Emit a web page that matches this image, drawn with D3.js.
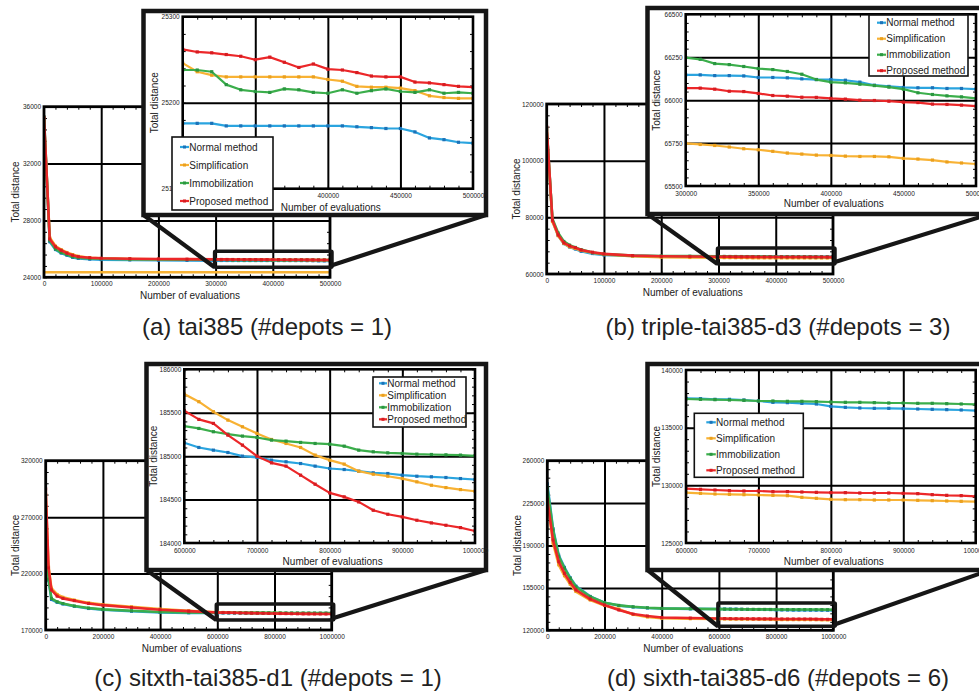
<!DOCTYPE html>
<html>
<head>
<meta charset="utf-8">
<script src="https://cdn.jsdelivr.net/npm/d3@7"></script>
<style>
body { margin: 0; background: #fff; }
text { font-family: "Liberation Sans", Arial, sans-serif; }
</style>
</head>
<body>
<svg id="fig" width="979" height="695"></svg>
<script>
'use strict';

var seriesNames  = ["Normal method", "Simplification", "Immobilization", "Proposed method"];
var seriesColors = ["#2aa4df", "#f8b234", "#3bae4b", "#ec2729"];
var markerColors = ["#1b72b8", "#eba01d", "#2a9640", "#d71c21"];

// x values of the zoomed part
var abTailX = [300000, 310000, 320000, 330000, 340000, 350000, 360000, 370000, 380000, 390000, 400000,
               410000, 420000, 430000, 440000, 450000, 460000, 470000, 480000, 490000, 500000];
var cdTailX = [600000, 620000, 640000, 660000, 680000, 700000, 720000, 740000, 760000, 780000, 800000,
               820000, 840000, 860000, 880000, 900000, 920000, 940000, 960000, 980000, 1000000];

// (a) tai385
var aHeadX        = [0, 10000, 20000, 30000, 40000, 50000, 60000, 80000, 100000, 150000, 200000, 250000];
var aHeadNormal   = [35100, 26500, 25950, 25700, 25550, 25400, 25330, 25270, 25240, 25215, 25195, 25185];
var aHeadSimpl    = [35000, 26800, 26200, 25950, 25750, 25600, 25480, 25380, 25330, 25290, 25270, 25255];
var aHeadImmob    = [35300, 26600, 26000, 25750, 25600, 25450, 25380, 25320, 25300, 25270, 25255, 25245];
var aHeadProposed = [35250, 26700, 26150, 25900, 25700, 25550, 25450, 25380, 25340, 25310, 25290, 25275];
var aTailNormal   = [25176, 25176, 25176, 25173, 25173, 25173, 25173, 25173, 25173, 25173, 25173,
                     25173, 25172, 25171, 25170, 25170, 25166, 25159, 25157, 25154, 25153];
var aTailSimpl    = [25246, 25236, 25232, 25230, 25230, 25230, 25230, 25230, 25230, 25230, 25227,
                     25225, 25219, 25218, 25218, 25217, 25214, 25208, 25206, 25205, 25205];
var aTailImmob    = [25238, 25238, 25236, 25221, 25215, 25213, 25212, 25216, 25215, 25212, 25211,
                     25215, 25211, 25214, 25216, 25213, 25212, 25215, 25211, 25212, 25211];
var aTailProposed = [25262, 25259, 25258, 25256, 25254, 25250, 25253, 25247, 25241, 25245, 25239,
                     25238, 25235, 25231, 25230, 25230, 25224, 25223, 25221, 25219, 25218];
var aFloorX       = [0, 500000];
var aFloorSimpl   = [24350, 24350];

// (b) triple-tai385-d3
var bHeadX        = [0, 10000, 20000, 30000, 40000, 50000, 60000, 80000, 100000, 150000, 200000, 250000];
var bHeadNormal   = [111500, 78800, 73600, 70700, 69500, 68800, 68000, 67200, 66700, 66400, 66250, 66180];
var bHeadSimpl    = [111500, 78500, 73500, 70800, 69600, 69000, 68300, 67500, 66900, 66300, 65950, 65800];
var bHeadImmob    = [111000, 79500, 74500, 71500, 70200, 69400, 68600, 67600, 67000, 66500, 66350, 66300];
var bHeadProposed = [112000, 79000, 73800, 71000, 69900, 69300, 68500, 67700, 67100, 66500, 66250, 66150];
var bTailNormal   = [66147, 66147, 66143, 66143, 66141, 66132, 66132, 66130, 66124, 66120, 66120,
                     66116, 66105, 66087, 66080, 66074, 66072, 66072, 66068, 66068, 66064];
var bTailSimpl    = [65748, 65742, 65736, 65727, 65717, 65711, 65702, 65692, 65686, 65680, 65678,
                     65674, 65672, 65672, 65670, 65661, 65657, 65651, 65640, 65634, 65628];
var bTailImmob    = [66248, 66238, 66213, 66207, 66196, 66184, 66178, 66167, 66151, 66120, 66105,
                     66101, 66093, 66085, 66076, 66064, 66043, 66033, 66025, 66019, 66010];
var bTailProposed = [66070, 66070, 66064, 66052, 66050, 66039, 66027, 66023, 66017, 66016, 66010,
                     66006, 66000, 65998, 65994, 65988, 65986, 65977, 65975, 65971, 65965];

// (c) sitxth-tai385-d1
var cHeadX        = [0, 10000, 20000, 40000, 60000, 100000, 150000, 200000, 300000, 400000, 500000];
var cHeadNormal   = [263000, 214000, 197000, 194500, 193000, 191000, 189000, 188000, 186600, 185500, 185200];
var cHeadSimpl    = [290000, 226000, 207000, 201500, 199000, 196500, 194000, 192500, 190500, 188500, 187000];
var cHeadImmob    = [265000, 215000, 198000, 195000, 193500, 191300, 189500, 188300, 187000, 185900, 185500];
var cHeadProposed = [295000, 225000, 205500, 200000, 198000, 196000, 193500, 192000, 190000, 188000, 186700];
var cTailNormal   = [185154, 185100, 185069, 185042, 185000, 184985, 184954, 184935, 184915, 184885, 184858,
                     184846, 184827, 184808, 184800, 184781, 184769, 184762, 184754, 184742, 184731];
var cTailSimpl    = [185715, 185627, 185512, 185415, 185338, 185262, 185192, 185146, 185100, 185012, 184954,
                     184908, 184827, 184792, 184769, 184742, 184704, 184665, 184638, 184615, 184596];
var cTailImmob    = [185346, 185319, 185281, 185254, 185231, 185215, 185185, 185173, 185158, 185146, 185138,
                     185115, 185069, 185050, 185038, 185031, 185023, 185019, 185015, 185012, 185004];
var cTailProposed = [185523, 185423, 185377, 185242, 185127, 185000, 184923, 184885, 184781, 184677, 184577,
                     184531, 184473, 184377, 184331, 184300, 184262, 184231, 184204, 184177, 184138];

// (d) sixth-tai385-d6
var dHeadX        = [0, 20000, 40000, 60000, 80000, 100000, 150000, 200000, 250000, 300000, 350000, 400000, 500000];
var dHeadNormal   = [241000, 204000, 182000, 172000, 163500, 156500, 148000, 142800, 140400, 139200, 138400, 138000, 137700];
var dHeadSimpl    = [229000, 192000, 174000, 165000, 158000, 152000, 145000, 140500, 137500, 133000, 131000, 130000, 129500];
var dHeadImmob    = [238000, 202800, 180800, 171200, 162900, 156000, 147700, 142700, 140600, 139400, 138600, 138100, 137800];
var dHeadProposed = [228000, 194500, 176600, 167000, 159600, 153300, 145800, 140800, 136800, 133400, 131800, 130600, 130100];
var dTailNormal   = [137543, 137514, 137457, 137457, 137400, 137312, 137197, 137168, 137110, 137052, 136850,
                     136763, 136705, 136676, 136676, 136647, 136618, 136590, 136561, 136532, 136474];
var dTailSimpl    = [129364, 129306, 129249, 129220, 129191, 129162, 129133, 129104, 128960, 128873, 128786,
                     128757, 128757, 128728, 128728, 128728, 128699, 128671, 128642, 128613, 128584];
var dTailImmob    = [137486, 137457, 137428, 137399, 137370, 137312, 137312, 137283, 137283, 137254, 137225,
                     137197, 137197, 137168, 137139, 137139, 137110, 137110, 137081, 137052, 137023];
var dTailProposed = [129711, 129653, 129595, 129538, 129509, 129509, 129451, 129451, 129422, 129393, 129364,
                     129364, 129335, 129335, 129335, 129306, 129277, 129191, 129133, 129104, 129046];

var svg = d3.select("#fig"),
    clipCount = 0,
    INK = "#161616";

function zip(xs, vs) {
    return xs.map(function(x, i) { return [x, vs[i]]; });
}

function stripDomain(sel) { sel.select(".domain").remove(); }

// one framed plot with grid, inward ticks, labels and series
function drawPlot(p, sets) {
    var x = d3.scaleLinear().domain(p.xDomain).range([p.left, p.right]),
        y = d3.scaleLinear().domain(p.yDomain).range([p.bottom, p.top]),
        w = p.right - p.left,
        h = p.bottom - p.top,
        g = svg.append("g");

    var xMajor = d3.range(p.xDomain[0], p.xDomain[1] + 1, p.xStep),
        yMajor = d3.range(p.yDomain[0], p.yDomain[1] + 1, p.yStep),
        xMinor = d3.range(p.xDomain[0], p.xDomain[1] + 1, p.xMinor),
        yMinor = d3.range(p.yDomain[0], p.yDomain[1] + 1, p.yMinor);

    // grid
    g.append("g").attr("transform", "translate(0," + p.bottom + ")")
        .call(d3.axisBottom(x).tickValues(xMajor.slice(1, -1)).tickSize(-h).tickFormat(""))
        .call(stripDomain)
        .selectAll("line").attr("stroke", "#000").attr("stroke-width", p.grid);
    g.append("g").attr("transform", "translate(" + p.left + ",0)")
        .call(d3.axisLeft(y).tickValues(yMajor.slice(1, -1)).tickSize(-w).tickFormat(""))
        .call(stripDomain)
        .selectAll("line").attr("stroke", "#000").attr("stroke-width", p.grid);

    // minor ticks, pointing inward on all four sides
    var ticks = [
        [d3.axisBottom(x).tickValues(xMinor), "translate(0," + p.bottom + ")"],
        [d3.axisTop(x).tickValues(xMinor),    "translate(0," + p.top + ")"],
        [d3.axisLeft(y).tickValues(yMinor),   "translate(" + p.left + ",0)"],
        [d3.axisRight(y).tickValues(yMinor),  "translate(" + p.right + ",0)"]
    ];
    ticks.forEach(function(t) {
        g.append("g").attr("transform", t[1])
            .call(t[0].tickSize(-3).tickFormat(""))
            .call(stripDomain)
            .selectAll("line").attr("stroke", "#000").attr("stroke-width", 1);
    });

    // series
    var clipId = "clip" + (clipCount++);
    g.append("clipPath").attr("id", clipId)
        .append("rect").attr("x", p.left).attr("y", p.top).attr("width", w).attr("height", h);
    var lines = g.append("g").attr("clip-path", "url(#" + clipId + ")");
    var line = d3.line().x(function(d) { return x(d[0]); }).y(function(d) { return y(d[1]); });

    sets.forEach(function(s) {
        lines.append("path").datum(s.pts)
            .attr("fill", "none")
            .attr("stroke", seriesColors[s.k])
            .attr("stroke-width", p.lw)
            .attr("stroke-linejoin", "round")
            .attr("d", line);
        if (s.marks === false) return;
        lines.selectAll(null).data(s.pts).enter().append("rect")
            .attr("x", function(d) { return x(d[0]) - p.mk / 2; })
            .attr("y", function(d) { return y(d[1]) - p.mk / 2; })
            .attr("width", p.mk).attr("height", p.mk)
            .attr("fill", markerColors[s.k]);
    });

    // frame
    g.append("rect")
        .attr("x", p.left).attr("y", p.top).attr("width", w).attr("height", h)
        .attr("fill", "none").attr("stroke", "#000").attr("stroke-width", p.frame);

    // tick labels (those hidden under a legend in the original are left out)
    var fmt = d3.format("d"),
        hidden = p.xHidden || [],
        xLabels = xMajor.filter(function(v) { return hidden.indexOf(v) < 0; });
    g.append("g").attr("transform", "translate(0," + p.bottom + ")")
        .call(d3.axisBottom(x).tickValues(xLabels).tickSize(0).tickPadding(p.xPad).tickFormat(fmt))
        .call(stripDomain)
        .selectAll("text").attr("font-size", 6.5).attr("font-family", null).attr("fill", "#222");
    g.append("g").attr("transform", "translate(" + p.left + ",0)")
        .call(d3.axisLeft(y).tickValues(yMajor).tickSize(0).tickPadding(3).tickFormat(fmt))
        .call(stripDomain)
        .selectAll("text").attr("font-size", 6.5).attr("font-family", null).attr("fill", "#222");

    // titles
    g.append("text")
        .attr("x", (p.left + p.right) / 2 + 3).attr("y", p.xTitleY)
        .attr("text-anchor", "middle").attr("font-size", 10).attr("fill", "#222")
        .text("Number of evaluations");
    g.append("text")
        .attr("transform", "translate(" + p.yTitleX + "," + (p.top + p.bottom) / 2 + ") rotate(-90)")
        .attr("text-anchor", "middle").attr("dy", "0.35em").attr("font-size", 10).attr("fill", "#222")
        .text("Total distance");

    return {x: x, y: y};
}

function drawLegend(L) {
    var g = svg.append("g");
    g.append("rect").attr("x", L.x).attr("y", L.y).attr("width", L.w).attr("height", L.h)
        .attr("fill", "#fff").attr("stroke", "#111").attr("stroke-width", 1.6);
    seriesNames.forEach(function(name, i) {
        var cy = L.row0 + i * L.step;
        g.append("line")
            .attr("x1", L.x + L.s0).attr("x2", L.x + L.s1).attr("y1", cy).attr("y2", cy)
            .attr("stroke", seriesColors[i]).attr("stroke-width", 2.2);
        g.append("rect")
            .attr("x", L.x + (L.s0 + L.s1) / 2 - 1.5).attr("y", cy - 1.5)
            .attr("width", 3).attr("height", 3).attr("fill", markerColors[i]);
        g.append("text")
            .attr("x", L.x + L.s1 + 0.3).attr("y", cy).attr("dy", "0.35em")
            .attr("font-size", 10).attr("fill", "#222").text(name);
    });
}

function drawPanel(P) {
    var mainSets = P.head.map(function(hv, k) {
        return {k: k, pts: zip(P.headX, hv).concat(zip(P.tailX, P.tail[k]))};
    });
    if (P.extra) mainSets.unshift(P.extra);
    var m = drawPlot(P.main, mainSets);

    // highlight box and connectors
    var ins = P.inset,
        yMid = m.y((ins.yDomain[0] + ins.yDomain[1]) / 2),
        bx0 = m.x(ins.xDomain[0]) - 1,
        bx1 = m.x(ins.xDomain[1]) + 2,
        by0 = Math.min(m.y(ins.yDomain[1]) - 3, yMid - 9),
        by1 = Math.max(m.y(ins.yDomain[0]) + 2, yMid + 7),
        f = P.frame;
    svg.append("rect").attr("x", bx0).attr("y", by0).attr("width", bx1 - bx0).attr("height", by1 - by0)
        .attr("fill", "none").attr("stroke", INK).attr("stroke-width", 3.5).attr("rx", 1);
    svg.append("line").attr("x1", f[0]).attr("y1", f[3]).attr("x2", bx0).attr("y2", by1)
        .attr("stroke", INK).attr("stroke-width", 4.2);
    svg.append("line").attr("x1", bx1).attr("y1", by1 - 2).attr("x2", f[2]).attr("y2", f[3])
        .attr("stroke", INK).attr("stroke-width", 4.2);

    // zoomed inset
    svg.append("rect").attr("x", f[0]).attr("y", f[1]).attr("width", f[2] - f[0]).attr("height", f[3] - f[1])
        .attr("fill", "#fff").attr("stroke", INK).attr("stroke-width", 4.5);
    drawPlot(ins, P.tail.map(function(tv, k) { return {k: k, pts: zip(P.tailX, tv)}; }));
    drawLegend(P.legend);

    svg.append("text").attr("x", P.caption[1]).attr("y", P.caption[2])
        .attr("text-anchor", "middle").attr("font-size", 24).attr("fill", "#222")
        .text(P.caption[0]);
}

function mainBox(left, right, top, bottom, xDomain, yDomain, xStep, yStep, yTitleX) {
    return {left: left, right: right, top: top, bottom: bottom, xDomain: xDomain, yDomain: yDomain,
            xStep: xStep, yStep: yStep, xMinor: xStep / 5, yMinor: yStep / 5,
            grid: 2, frame: 2.8, lw: 2.6, mk: 3, xPad: 4, xTitleY: bottom + 21.5, yTitleX: yTitleX};
}

function insetBox(left, right, top, bottom, xDomain, yDomain, xStep, yStep, yTitleX, xTitleY) {
    return {left: left, right: right, top: top, bottom: bottom, xDomain: xDomain, yDomain: yDomain,
            xStep: xStep, yStep: yStep, xMinor: xStep / 5, yMinor: yStep / 5,
            grid: 2, frame: 2.6, lw: 2.2, mk: 3.2, xPad: 5, xTitleY: xTitleY, yTitleX: yTitleX};
}

var insetA = insetBox(182.7, 473, 16.7, 188.7, [300000, 500000], [25100, 25300], 50000, 100, 154.5, 210.5);
insetA.xHidden = [300000, 350000];

drawPanel({
    main:  mainBox(44, 330, 106.7, 277.3, [0, 500000], [24000, 36000], 100000, 4000, 15.5),
    inset: insetA,
    frame: [143.5, 11, 486, 215],
    legend: {x: 172, y: 137, w: 101, h: 73, row0: 147, step: 18, s0: 8, s1: 17},
    caption: ["(a) tai385 (#depots = 1)", 267, 335],
    headX: aHeadX, head: [aHeadNormal, aHeadSimpl, aHeadImmob, aHeadProposed],
    tailX: abTailX, tail: [aTailNormal, aTailSimpl, aTailImmob, aTailProposed],
    extra: {k: 1, marks: false, pts: zip(aFloorX, aFloorSimpl)}
});

drawPanel({
    main:  mainBox(546.7, 833, 104, 274, [0, 500000], [60000, 120000], 100000, 20000, 516.5),
    inset: insetBox(685.7, 976, 14.3, 186, [300000, 500000], [65500, 66500], 50000, 250, 656, 207),
    frame: [647.5, 8, 990, 214],
    legend: {x: 869, y: 15, w: 99, h: 61, row0: 22.7, step: 16, s0: 8, s1: 17},
    caption: ["(b) triple-tai385-d3 (#depots = 3)", 778, 335],
    headX: bHeadX, head: [bHeadNormal, bHeadSimpl, bHeadImmob, bHeadProposed],
    tailX: abTailX, tail: [bTailNormal, bTailSimpl, bTailImmob, bTailProposed]
});

drawPanel({
    main:  mainBox(45.7, 331.7, 460.7, 630, [0, 1000000], [170000, 320000], 200000, 50000, 15.5),
    inset: insetBox(184.3, 475, 369.3, 543, [600000, 1000000], [184000, 186000], 100000, 500, 153.5, 565),
    frame: [146.5, 364, 486, 570],
    legend: {x: 373, y: 377, w: 93, h: 50, row0: 383.3, step: 12, s0: 6, s1: 14},
    caption: ["(c) sitxth-tai385-d1 (#depots = 1)", 268, 686],
    headX: cHeadX, head: [cHeadNormal, cHeadSimpl, cHeadImmob, cHeadProposed],
    tailX: cdTailX, tail: [cTailNormal, cTailSimpl, cTailImmob, cTailProposed]
});

drawPanel({
    main:  mainBox(547.3, 833.3, 460.7, 630.3, [0, 1000000], [120000, 260000], 200000, 35000, 517),
    inset: insetBox(686, 975.7, 370, 543, [600000, 1000000], [125000, 140000], 100000, 5000, 656.5, 565),
    frame: [647.5, 364, 990, 570],
    legend: {x: 694.3, y: 413.3, w: 109, h: 64, row0: 422.3, step: 16, s0: 12, s1: 21.5},
    caption: ["(d) sixth-tai385-d6 (#depots = 6)", 778, 686],
    headX: dHeadX, head: [dHeadNormal, dHeadSimpl, dHeadImmob, dHeadProposed],
    tailX: cdTailX, tail: [dTailNormal, dTailSimpl, dTailImmob, dTailProposed]
});
</script>
</body>
</html>
